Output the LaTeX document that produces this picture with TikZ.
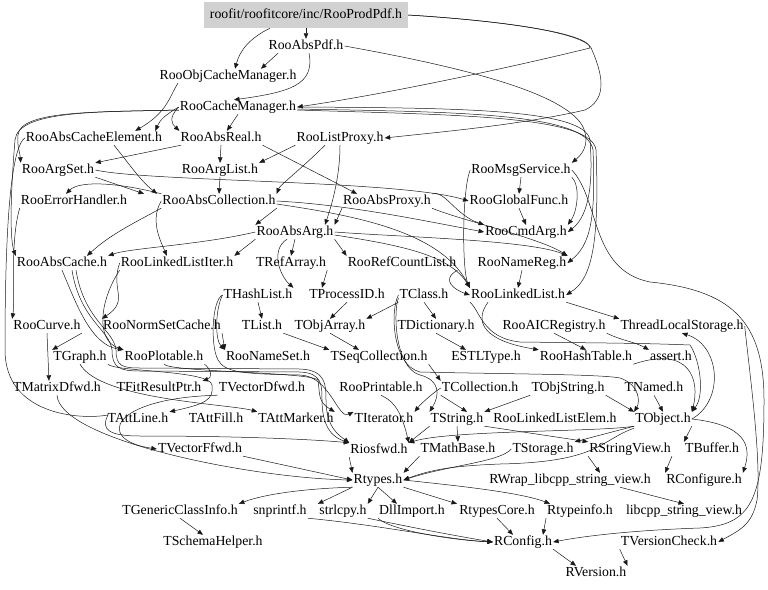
\documentclass[tikz,border=0pt]{standalone}
\usepackage{fontspec}
\setmainfont{Liberation Serif}
\usetikzlibrary{arrows.meta}
\begin{document}
\begin{tikzpicture}[x=1pt, y=1pt,
    file/.style={inner sep=1pt, text height=9.5pt, text depth=2.5pt,
                 font=\fontsize{13.8}{15}\selectfont},
    rootfile/.style={file, fill=black!18, minimum width=204pt, minimum height=26pt},
    edge/.style={draw=black!90, line width=0.5pt, -{Triangle[length=5.5pt,width=4.5pt]}}
  ]
  \useasboundingbox (0,0) rectangle (768,-589);
  % files
  \node[rootfile] (prodpdf) at (306,-15) {roofit/roofitcore/inc/RooProdPdf.h};
  \node[file] (abspdf) at (306,-46) {RooAbsPdf.h};
  \node[file] (objcache) at (228,-76) {RooObjCacheManager.h};
  \node[file] (cachemgr) at (238,-107) {RooCacheManager.h};
  \node[file] (cacheelem) at (94,-138) {RooAbsCacheElement.h};
  \node[file] (absreal) at (221,-138) {RooAbsReal.h};
  \node[file] (listproxy) at (340,-138) {RooListProxy.h};
  \node[file] (argset) at (58,-170) {RooArgSet.h};
  \node[file] (arglist) at (220,-170) {RooArgList.h};
  \node[file] (msgsvc) at (521,-170) {RooMsgService.h};
  \node[file] (errhandler) at (74,-201) {RooErrorHandler.h};
  \node[file] (abscoll) at (219,-201) {RooAbsCollection.h};
  \node[file] (absproxy) at (387,-201) {RooAbsProxy.h};
  \node[file] (globalfunc) at (519,-201) {RooGlobalFunc.h};
  \node[file] (absarg) at (295,-232) {RooAbsArg.h};
  \node[file] (cmdarg) at (526,-232) {RooCmdArg.h};
  \node[file] (abscache) at (62,-263) {RooAbsCache.h};
  \node[file] (llistiter) at (177,-263) {RooLinkedListIter.h};
  \node[file] (trefarray) at (291,-263) {TRefArray.h};
  \node[file] (refcount) at (402,-263) {RooRefCountList.h};
  \node[file] (namereg) at (522,-263) {RooNameReg.h};
  \node[file] (thashlist) at (258,-295) {THashList.h};
  \node[file] (tprocessid) at (347,-295) {TProcessID.h};
  \node[file] (tclass) at (424,-295) {TClass.h};
  \node[file] (llist) at (518,-295) {RooLinkedList.h};
  \node[file] (roocurve) at (47,-326) {RooCurve.h};
  \node[file] (normset) at (162,-326) {RooNormSetCache.h};
  \node[file] (tlist) at (262,-326) {TList.h};
  \node[file] (tobjarray) at (330,-326) {TObjArray.h};
  \node[file] (tdict) at (436,-326) {TDictionary.h};
  \node[file] (aicreg) at (554,-326) {RooAICRegistry.h};
  \node[file] (tls) at (682,-326) {ThreadLocalStorage.h};
  \node[file] (tgraph) at (80,-357) {TGraph.h};
  \node[file] (plotable) at (164,-357) {RooPlotable.h};
  \node[file] (nameset) at (268,-357) {RooNameSet.h};
  \node[file] (tseqcoll) at (379,-357) {TSeqCollection.h};
  \node[file] (estl) at (486,-357) {ESTLType.h};
  \node[file] (hashtable) at (586,-357) {RooHashTable.h};
  \node[file] (assertion) at (671,-357) {assert.h};
  \node[file] (tmatrixd) at (57,-388) {TMatrixDfwd.h};
  \node[file] (fitresult) at (159,-388) {TFitResultPtr.h};
  \node[file] (tvectord) at (262,-388) {TVectorDfwd.h};
  \node[file] (printable) at (381,-388) {RooPrintable.h};
  \node[file] (tcollection) at (480,-388) {TCollection.h};
  \node[file] (tobjstring) at (568,-388) {TObjString.h};
  \node[file] (tnamed) at (654,-388) {TNamed.h};
  \node[file] (tattline) at (138,-419) {TAttLine.h};
  \node[file] (tattfill) at (216,-419) {TAttFill.h};
  \node[file] (tattmarker) at (296,-419) {TAttMarker.h};
  \node[file] (titerator) at (384,-419) {TIterator.h};
  \node[file] (tstring) at (457,-419) {TString.h};
  \node[file] (llistelem) at (555,-419) {RooLinkedListElem.h};
  \node[file] (tobject) at (663,-419) {TObject.h};
  \node[file] (tvectorf) at (200,-449) {TVectorFfwd.h};
  \node[file] (riosfwd) at (379,-450) {Riosfwd.h};
  \node[file] (tmathbase) at (458,-449) {TMathBase.h};
  \node[file] (tstorage) at (543,-449) {TStorage.h};
  \node[file] (rstringview) at (630,-449) {RStringView.h};
  \node[file] (tbuffer) at (712,-449) {TBuffer.h};
  \node[file] (rtypes) at (378,-480) {Rtypes.h};
  \node[file] (rwrap) at (570,-480) {RWrap\_libcpp\_string\_view.h};
  \node[file] (rconfigure) at (704,-480) {RConfigure.h};
  \node[file] (tgeneric) at (180,-511) {TGenericClassInfo.h};
  \node[file] (snprintf) at (280,-511) {snprintf.h};
  \node[file] (strlcpy) at (343,-511) {strlcpy.h};
  \node[file] (dllimport) at (412,-511) {DllImport.h};
  \node[file] (rtypescore) at (497,-511) {RtypesCore.h};
  \node[file] (rtypeinfo) at (580,-511) {Rtypeinfo.h};
  \node[file] (libcpp) at (684,-511) {libcpp\_string\_view.h};
  \node[file] (tschema) at (213,-542) {TSchemaHelper.h};
  \node[file] (rconfig) at (523,-542) {RConfig.h};
  \node[file] (tversion) at (669,-542) {TVersionCheck.h};
  \node[file] (rversion) at (596,-573) {RVersion.h};

  % top rows
  \draw[edge] (prodpdf.south) -- (abspdf.north);
  \draw[edge] ([xshift=-36pt]prodpdf.south) .. controls (250,-38) and (240,-50) .. ([xshift=7pt]objcache.north);
  \draw[edge] ([xshift=-28pt]abspdf.south) -- ([xshift=33pt]objcache.north);
  \draw[edge] ([xshift=3pt]abspdf.south) .. controls (315,-85) and (290,-92) .. ([xshift=-4pt]cachemgr.north);
  \draw[edge] (prodpdf.east) .. controls (520,-22) and (590,-35) .. (590,-48) .. controls (500,-70) and (380,-95) .. (cachemgr.east);
  \draw[edge] (prodpdf.east) .. controls (520,-22) and (590,-35) .. (592,-50) .. controls (605,-80) and (605,-100) .. (585,-110) .. controls (520,-125) and (440,-132) .. (listproxy.east);
  \draw[edge] (abspdf.east) .. controls (450,-65) and (560,-90) .. (582,-125) .. controls (590,-140) and (585,-152) .. (msgsvc.north east);
  \draw[edge] (cachemgr.east) .. controls (450,-108) and (585,-108) .. (590,-140) .. controls (593,-180) and (590,-215) .. (cmdarg.east);
  \draw[edge] ([yshift=-2pt]cachemgr.east) .. controls (450,-112) and (588,-112) .. (593,-150) .. controls (596,-220) and (590,-245) .. (namereg.east);
  \draw[edge] ([yshift=-3pt]cachemgr.east) .. controls (450,-115) and (592,-115) .. (596,-150) .. controls (600,-250) and (590,-280) .. (llist.east);
  \draw[edge] ([xshift=-50pt]objcache.south) .. controls (170,-95) and (168,-112) .. ([xshift=-28pt]cacheelem.north east);
  \draw[edge] (cachemgr.west) .. controls (165,-115) and (160,-120) .. ([xshift=-8pt]cacheelem.north east);
  \draw[edge] (cachemgr.west) .. controls (168,-118) and (172,-124) .. (absreal.north west);
  \draw[edge] (cachemgr.south) -- ([xshift=6pt]absreal.north);
  \draw[edge] ([yshift=-3pt]cachemgr.west) .. controls (100,-112) and (20,-110) .. (18,-135) .. controls (17,-148) and (20,-152) .. (argset.north west);
  \draw[edge] ([yshift=-3pt]cachemgr.west) .. controls (100,-112) and (18,-110) .. (15,-140) .. controls (10,-200) and (10,-240) .. (abscache.north west);
  \draw[edge] (cacheelem.west) .. controls (8,-150) and (5,-260) .. (5,-350) .. controls (5,-415) and (80,-420) .. (108,-415) .. controls (100,-430) and (110,-436) .. (140,-436) .. controls (250,-436) and (320,-440) .. (riosfwd.north west);

  % RooAbsReal / RooArgList / RooAbsCollection rows
  \draw[edge] ([xshift=-40pt]absreal.south) -- (argset.north east);
  \draw[edge] (absreal.south) -- (arglist.north);
  \draw[edge] (listproxy.south west) -- (arglist.north east);
  \draw[edge] (absreal.south east) -- ([xshift=-30pt]absproxy.north);
  \draw[edge] ([xshift=20pt]cacheelem.south) .. controls (130,-165) and (140,-180) .. ([xshift=-62pt]abscoll.north);
  \draw[edge] (argset.south east) -- ([xshift=-75pt]abscoll.north);
  \draw[edge] (arglist.south) -- (abscoll.north);
  \draw[edge] (abscoll.north west) .. controls (120,-183) and (80,-180) .. ([xshift=-8pt]errhandler.north);
  \draw[edge] ([xshift=-15pt]listproxy.south) .. controls (300,-170) and (280,-185) .. (abscoll.north east);
  \draw[edge] (argset.east) .. controls (150,-182) and (400,-180) .. (globalfunc.west);
  \draw[edge] (abscoll.south east) -- (absarg.north west);
  \draw[edge] (abscoll.west) .. controls (150,-220) and (160,-240) .. ([xshift=-10pt]llistiter.north);
  \draw[edge] (abscoll.east) .. controls (350,-205) and (420,-220) .. (cmdarg.west);
  \draw[edge] (absproxy.north east) .. controls (445,-190) and (455,-215) .. (cmdarg.north west);
  \draw[edge] (absproxy.south west) -- (absarg.north east);
  \draw[edge] (listproxy.south) .. controls (340,-180) and (330,-210) .. ([xshift=30pt]absarg.north);
  \draw[edge] (absproxy.south east) .. controls (460,-220) and (540,-238) .. (namereg.north east);
  \draw[edge] (msgsvc.south) -- (globalfunc.north);
  \draw[edge] (globalfunc.south) -- (cmdarg.north);
  \draw[edge] (msgsvc.south east) .. controls (580,-185) and (578,-210) .. (cmdarg.north east);
  \draw[edge] (msgsvc.west) .. controls (462,-190) and (462,-270) .. (llist.north west);

  % RooAbsArg rows
  \draw[edge] (absarg.south) -- (trefarray.north);
  \draw[edge] (absarg.south east) -- (refcount.north west);
  \draw[edge] (absarg.south west) -- (llistiter.north east);
  \draw[edge] (absarg.east) .. controls (400,-237) and (530,-240) .. (namereg.north east);
  \draw[edge] ([yshift=-3pt]absarg.east) .. controls (400,-245) and (450,-255) .. (llist.north west);
  \draw[edge] ([yshift=-3pt]abscoll.east) .. controls (350,-215) and (440,-230) .. (llist.north west);
  \draw[edge] (absarg.west) .. controls (200,-245) and (130,-248) .. (abscache.north east);
  \draw[edge] (abscoll.south west) .. controls (130,-225) and (110,-235) .. ([xshift=25pt]abscache.north);
  \draw[edge] ([xshift=-8pt]absarg.south) .. controls (270,-250) and (280,-276) .. (thashlist.north east);
  \draw[edge] (trefarray.south east) -- ([xshift=-25pt]tprocessid.north);
  \draw[edge] (refcount.south east) .. controls (440,-280) and (455,-290) .. (llist.west);
  \draw[edge] (namereg.south) -- (llist.north);
  \draw[edge] (thashlist.south) -- (tlist.north);
  \draw[edge] (tprocessid.south) -- (tobjarray.north);
  \draw[edge] (tclass.south) -- (tdict.north);
  \draw[edge] (tclass.south west) -- (tobjarray.north east);
  \draw[edge] (llist.south east) -- (tls.north west);
  \draw[edge] ([xshift=-30pt]llist.south) .. controls (475,-320) and (480,-340) .. (hashtable.north west);
  \draw[edge] (aicreg.south) -- (hashtable.north);
  \draw[edge] (aicreg.south east) .. controls (620,-340) and (635,-342) .. (assertion.north west);
  \draw[edge] (tobject.east) .. controls (725,-400) and (720,-345) .. (tls.south);

  % left columns
  \draw[edge] (roocurve.south east) -- (tgraph.north west);
  \draw[edge] (roocurve.south) -- ([xshift=-8pt]tmatrixd.north);
  \draw[edge] (errhandler.south west) .. controls (10,-240) and (15,-300) .. (roocurve.north west);
  \draw[edge] (abscache.south) .. controls (75,-300) and (90,-345) .. (plotable.north west);
  \draw[edge] (llistiter.south west) .. controls (100,-300) and (95,-340) .. (plotable.north west);
  \draw[edge] (llistiter.west) .. controls (110,-290) and (130,-300) .. (normset.north west);
  \draw[edge] (normset.south east) -- (nameset.north west);
  \draw[edge] (thashlist.west) .. controls (215,-310) and (215,-340) .. (nameset.north west);
  \draw[edge] (tlist.south east) -- (tseqcoll.north west);
  \draw[edge] (tobjarray.south) -- ([xshift=-20pt]tseqcoll.north);
  \draw[edge] (tdict.south) -- ([xshift=-20pt]estl.north);
  \draw[edge] (tseqcoll.south east) -- (tcollection.north west);
  \draw[edge] (plotable.south east) .. controls (212,-370) and (212,-378) .. (fitresult.north east);
  \draw[edge] (tgraph.south east) .. controls (115,-372) and (210,-370) .. (212,-385) .. controls (214,-400) and (205,-404) .. (tattline.north east);
  \draw[edge] (tgraph.south) .. controls (100,-400) and (230,-404) .. (tattmarker.north west);

  % long bundles
  \draw[edge] ([xshift=10pt]abscache.south) .. controls (80,-320) and (110,-330) .. (112,-350) .. controls (112,-368) and (120,-371) .. (140,-371) -- (300,-372) .. controls (322,-373) and (322,-385) .. (322,-400) .. controls (322,-430) and (335,-438) .. (riosfwd.north west);
  \draw[edge] ([xshift=14pt]abscache.south) .. controls (84,-320) and (114,-330) .. (116,-350) .. controls (116,-366) and (122,-368) .. (140,-368) -- (300,-369) .. controls (326,-370) and (326,-385) .. (326,-400) .. controls (326,-428) and (340,-436) .. (riosfwd.north west);
  \draw[edge] (plotable.south) .. controls (170,-372) and (310,-372) .. (318,-380) .. controls (320,-395) and (318,-402) .. (tattmarker.north east);
  \draw[edge] (thashlist.west) .. controls (212,-300) and (210,-345) .. (218,-360) .. controls (225,-372) and (240,-374) .. (300,-375) .. controls (330,-376) and (338,-420) .. (titerator.north west);
  \draw[edge] (tclass.west) .. controls (390,-310) and (392,-365) .. (420,-372) .. controls (500,-374) and (600,-374) .. (620,-378) .. controls (640,-385) and (640,-402) .. (tobject.north west);
  \draw[edge] ([yshift=-3pt]tclass.west) .. controls (393,-312) and (395,-368) .. (420,-375) .. controls (440,-380) and (440,-395) .. (tstring.north west);
  \draw[edge] (llist.south west) .. controls (480,-310) and (482,-338) .. (520,-342) .. controls (600,-343) and (640,-343) .. (690,-345) .. controls (700,-360) and (705,-395) .. (tobject.north east);
  \draw[edge] (hashtable.south east) .. controls (690,-345) and (700,-380) .. (tobject.north east);
  \draw[edge] (printable.south) .. controls (390,-400) and (400,-405) .. (riosfwd.north east);

  % TObject rows
  \draw[edge] (tnamed.south) -- (tobject.north);
  \draw[edge] (tobjstring.south east) -- (tobject.north west);
  \draw[edge] (tobjstring.south west) -- (tstring.north east);
  \draw[edge] (tcollection.south west) -- ([xshift=10pt]tstring.north);
  \draw[edge] (tcollection.west) .. controls (430,-395) and (420,-405) .. (titerator.north east);
  \draw[edge] (tstring.south) -- (tmathbase.north);
  \draw[edge] (tstring.south west) -- (riosfwd.north east);
  \draw[edge] (tobject.south west) .. controls (600,-432) and (450,-430) .. (riosfwd.north east);
  \draw[edge] (tobject.south west) -- (tstorage.north east);
  \draw[edge] (tobject.south east) -- (tbuffer.north west);
  \draw[edge] (tstring.south east) -- (rstringview.north west);
  \draw[edge] (tobject.east) .. controls (745,-425) and (752,-445) .. (rconfigure.north east);
  \draw[edge] (tls.east) .. controls (748,-360) and (762,-460) .. (757,-500) .. controls (752,-525) and (740,-530) .. (tversion.east);
  \draw[edge] (msgsvc.east) .. controls (600,-200) and (590,-270) .. (650,-282) .. controls (730,-290) and (764,-320) .. (764,-400) .. controls (764,-500) and (752,-525) .. (700,-528) .. controls (640,-530) and (590,-535) .. (rconfig.east);

  % Rtypes and below
  \draw[edge] (tvectord.south west) .. controls (110,-398) and (95,-440) .. (tvectorf.west);
  \draw[edge] (tvectorf.south east) -- (rtypes.west);
  \draw[edge] (tmatrixd.south) .. controls (60,-440) and (250,-478) .. (rtypes.west);
  \draw[edge] (riosfwd.south west) -- (rtypes.north west);
  \draw[edge] (tmathbase.south west) -- (rtypes.north east);
  \draw[edge] (tstorage.west) .. controls (500,-462) and (450,-465) .. (rtypes.east);
  \draw[edge] ([yshift=-2pt]tobject.south west) .. controls (600,-440) and (600,-462) .. (500,-464) .. controls (450,-466) and (430,-470) .. (rtypes.east);
  \draw[edge] (rstringview.south west) -- ([xshift=30pt]rwrap.north);
  \draw[edge] (rstringview.south east) -- (rconfigure.north west);
  \draw[edge] ([xshift=50pt]rwrap.south) -- (libcpp.north);
  \draw[edge] (rtypes.south west) .. controls (320,-488) and (270,-492) .. (tgeneric.north east);
  \draw[edge] (rtypes.south west) -- ([xshift=10pt]snprintf.north east);
  \draw[edge] (rtypes.south) -- (strlcpy.north east);
  \draw[edge] (rtypes.south) -- ([xshift=-15pt]dllimport.north);
  \draw[edge] (rtypes.south east) -- ([xshift=-40pt]rtypescore.north);
  \draw[edge] (rtypes.east) .. controls (450,-485) and (520,-492) .. ([xshift=-30pt]rtypeinfo.north);
  \draw[edge] (tgeneric.south) -- ([xshift=-10pt]tschema.north);
  \draw[edge] (snprintf.south east) .. controls (380,-525) and (450,-540) .. (rconfig.west);
  \draw[edge] (strlcpy.south east) .. controls (400,-525) and (450,-535) .. (rconfig.west);
  \draw[edge] (dllimport.south west) .. controls (390,-530) and (450,-540) .. (rconfig.west);
  \draw[edge] (rtypescore.south) -- ([xshift=-10pt]rconfig.north);
  \draw[edge] (rtypeinfo.south west) -- ([xshift=20pt]rconfig.north);
  \draw[edge] (rconfig.south east) -- ([xshift=-20pt]rversion.north);
  \draw[edge] (tversion.south west) -- (rversion.north east);
\end{tikzpicture}
\end{document}
